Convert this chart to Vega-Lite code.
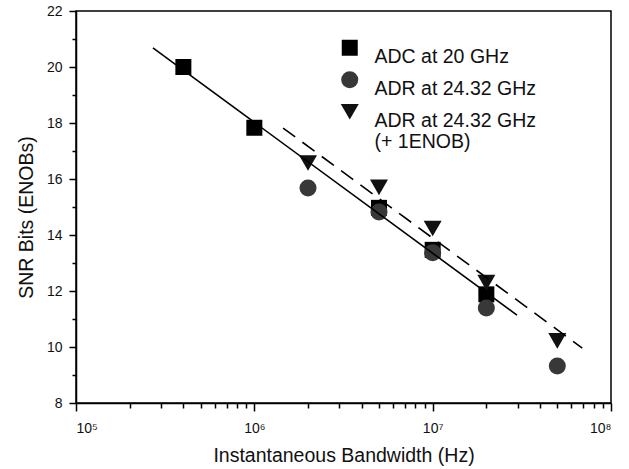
{
  "$schema": "https://vega.github.io/schema/vega-lite/v6.json",
  "width": 535,
  "height": 392,
  "autosize": "none",
  "padding": {"left": 76, "top": 11, "right": 18, "bottom": 66},
  "background": "white",
  "config": {
    "view": {"stroke": "#000", "strokeWidth": 1.5},
    "font": "Liberation Sans",
    "axis": {"grid": false, "domainColor": "#000", "domainWidth": 1.5, "tickColor": "#000", "tickWidth": 1.5, "labelFont": "Liberation Sans", "labelFontSize": 14, "labelColor": "#111", "titleFont": "Liberation Sans", "titleFontSize": 19.5, "titleFontWeight": "normal", "titleColor": "#111"}
  },
  "datasets": {
    "pts": [
      {"bw": 400000, "snr": 20.0, "series": "ADC at 20 GHz"},
      {"bw": 1000000, "snr": 17.83, "series": "ADC at 20 GHz"},
      {"bw": 5000000, "snr": 14.97, "series": "ADC at 20 GHz"},
      {"bw": 10000000, "snr": 13.47, "series": "ADC at 20 GHz"},
      {"bw": 20000000, "snr": 11.88, "series": "ADC at 20 GHz"},
      {"bw": 2000000, "snr": 15.68, "series": "ADR at 24.32 GHz"},
      {"bw": 5000000, "snr": 14.82, "series": "ADR at 24.32 GHz"},
      {"bw": 10000000, "snr": 13.37, "series": "ADR at 24.32 GHz"},
      {"bw": 20000000, "snr": 11.39, "series": "ADR at 24.32 GHz"},
      {"bw": 50000000, "snr": 9.32, "series": "ADR at 24.32 GHz"},
      {"bw": 2000000, "snr": 16.57, "series": "ADR at 24.32 GHz (+ 1ENOB)"},
      {"bw": 5000000, "snr": 15.7, "series": "ADR at 24.32 GHz (+ 1ENOB)"},
      {"bw": 10000000, "snr": 14.23, "series": "ADR at 24.32 GHz (+ 1ENOB)"},
      {"bw": 20000000, "snr": 12.3, "series": "ADR at 24.32 GHz (+ 1ENOB)"},
      {"bw": 50000000, "snr": 10.22, "series": "ADR at 24.32 GHz (+ 1ENOB)"}
    ],
    "solid": [
      {"bw": 270000, "snr": 20.68},
      {"bw": 29700000, "snr": 11.14}
    ],
    "dashed": [
      {"bw": 1450000, "snr": 17.82},
      {"bw": 69000000, "snr": 9.96}
    ]
  },
  "resolve": {"axis": {"x": "independent", "y": "independent"}},
  "layer": [
    {
      "data": {"name": "pts"},
      "mark": {"type": "point", "filled": true, "opacity": 1, "strokeWidth": 0},
      "encoding": {
        "x": {"field": "bw", "type": "quantitative",
          "scale": {"type": "log", "domain": [100000, 100000000], "nice": false},
          "axis": {"orient": "bottom", "values": [100000, 1000000, 10000000, 100000000], "tickSize": 8, "labelPadding": 10,
            "labelExpr": "datum.value < 500000 ? '10⁵' : datum.value < 5000000 ? '10⁶' : datum.value < 50000000 ? '10⁷' : '10⁸'",
            "title": "Instantaneous Bandwidth (Hz)", "titlePadding": 11}},
        "y": {"field": "snr", "type": "quantitative",
          "scale": {"domain": [8, 22], "nice": false, "zero": false},
          "axis": {"orient": "left", "values": [8, 10, 12, 14, 16, 18, 20, 22], "tickSize": 7, "labelPadding": 7,
            "title": "SNR Bits (ENOBs)", "titlePadding": 10, "titleY": 206}},
        "color": {"field": "series", "type": "nominal",
          "scale": {"domain": ["ADC at 20 GHz", "ADR at 24.32 GHz", "ADR at 24.32 GHz (+ 1ENOB)"], "range": ["#000000", "#383838", "#111111"]},
          "legend": {"title": null, "orient": "none", "legendX": 264, "legendY": 27, "symbolSize": 200, "symbolStrokeWidth": 0,
            "labelFont": "Liberation Sans", "labelFontSize": 19.5, "labelColor": "#111", "labelOffset": 15, "rowPadding": 3,
            "labelLimit": 300, "labelBaseline": "top",
            "labelExpr": "datum.label == 'ADR at 24.32 GHz (+ 1ENOB)' ? ['ADR at 24.32 GHz', '(+ 1ENOB)'] : datum.label",
            "encode": {
              "labels": {"dy": {"value": -8}, "lineHeight": {"value": 24}}
            }}},
        "shape": {"field": "series", "type": "nominal",
          "scale": {"domain": ["ADC at 20 GHz", "ADR at 24.32 GHz", "ADR at 24.32 GHz (+ 1ENOB)"], "range": ["square", "circle", "triangle-down"]}},
        "size": {"field": "series", "type": "nominal",
          "scale": {"domain": ["ADC at 20 GHz", "ADR at 24.32 GHz", "ADR at 24.32 GHz (+ 1ENOB)"], "range": [256, 324, 484]},
          "legend": null}
      }
    },
    {
      "data": {"name": "solid"},
      "mark": {"type": "line", "color": "#000", "strokeWidth": 1.6},
      "encoding": {
        "x": {"field": "bw", "type": "quantitative",
          "axis": {"orient": "bottom", "values": [200000, 300000, 400000, 500000, 600000, 700000, 800000, 900000, 2000000, 3000000, 4000000, 5000000, 6000000, 7000000, 8000000, 9000000, 20000000, 30000000, 40000000, 50000000, 60000000, 70000000, 80000000, 90000000],
            "labels": false, "domain": false, "tickSize": 5, "title": null}},
        "y": {"field": "snr", "type": "quantitative",
          "axis": {"orient": "left", "values": [9, 11, 13, 15, 17, 19, 21], "labels": false, "domain": false, "tickSize": 4, "title": null}}
      }
    },
    {
      "data": {"name": "dashed"},
      "mark": {"type": "line", "color": "#000", "strokeWidth": 1.6, "strokeDash": [15, 9]},
      "encoding": {
        "x": {"field": "bw", "type": "quantitative", "axis": null},
        "y": {"field": "snr", "type": "quantitative", "axis": null}
      }
    }
  ]
}
